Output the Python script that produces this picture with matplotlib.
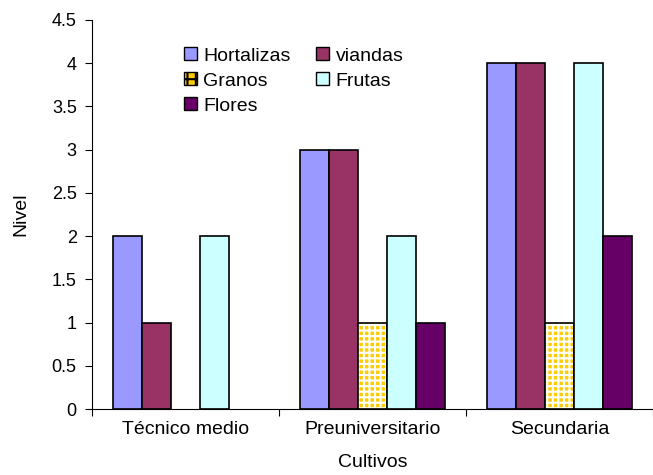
import matplotlib.pyplot as plt
import numpy as np
from matplotlib.patches import Patch

plt.rcParams['font.family'] = ['Liberation Sans', 'DejaVu Sans']
plt.rcParams['hatch.linewidth'] = 1.5

categories = ["Técnico medio", "Preuniversitario", "Secundaria"]
series = ["Hortalizas", "viandas", "Granos", "Frutas", "Flores"]
values = {
    "Hortalizas": [2, 3, 4],
    "viandas": [1, 3, 4],
    "Granos": [0, 1, 1],
    "Frutas": [2, 2, 4],
    "Flores": [0, 1, 2],
}
colors = {
    "Hortalizas": "#9999FF",
    "viandas": "#993366",
    "Granos": "#FFCC00",
    "Frutas": "#CCFFFF",
    "Flores": "#660066",
}

fig = plt.figure(figsize=(6.53, 4.75), dpi=100)
ax = fig.add_axes([92 / 653, 1 - 409 / 475, 561 / 653, 389 / 475])

x = np.arange(len(categories))
width = 0.156
offsets = (np.arange(len(series)) - 2) * width

for name, off in zip(series, offsets):
    vals = values[name]
    # no outline on empty bars
    lw = [1.2 if v > 0 else 0 for v in vals]
    if name == "Granos":
        # dotted fill first, black outline on top
        ax.bar(x + off, vals, width, color=colors[name], hatch="+++",
               edgecolor="white", linewidth=0)
        ax.bar(x + off, vals, width, facecolor="none", edgecolor="black",
               linewidth=lw)
    else:
        ax.bar(x + off, vals, width, color=colors[name], edgecolor="black",
               linewidth=lw)

ax.set_xlim(-0.5, 2.5)
ax.set_ylim(0, 4.5)
ax.set_yticks(np.arange(0, 4.51, 0.5))
ax.set_yticklabels(["0", "0.5", "1", "1.5", "2", "2.5", "3", "3.5", "4", "4.5"])
ax.set_xticks([-0.5, 0.5, 1.5, 2.5])
ax.set_xticklabels([])
ax.set_xticks(x, minor=True)
ax.set_xticklabels(categories, minor=True)
ax.tick_params(axis="x", which="minor", length=0, labelsize=14, pad=9)
ax.tick_params(axis="x", which="major", length=5, direction="out")
ax.tick_params(axis="y", length=5, direction="out", labelsize=13, pad=6)

for s in ["top", "right"]:
    ax.spines[s].set_visible(False)

ax.set_ylabel("Nivel", fontsize=14, labelpad=16)
ax.set_xlabel("Cultivos", fontsize=14, labelpad=11)

# legend fills by column, so order entries to read across rows
order = ["Hortalizas", "Granos", "Flores", "viandas", "Frutas"]
handles = []
for name in order:
    if name == "Granos":
        handles.append(Patch(facecolor=colors[name], edgecolor="black",
                             hatch="++", linewidth=1))
    else:
        handles.append(Patch(facecolor=colors[name], edgecolor="black",
                             linewidth=1))
ax.legend(handles, order, ncol=2, frameon=False, fontsize=14,
          loc="upper left", bbox_to_anchor=(0.15, 0.95),
          handlelength=0.65, handleheight=0.65, handletextpad=0.35,
          columnspacing=1.3, labelspacing=0.4, borderaxespad=0)

fig.savefig("out.png", dpi=100)
